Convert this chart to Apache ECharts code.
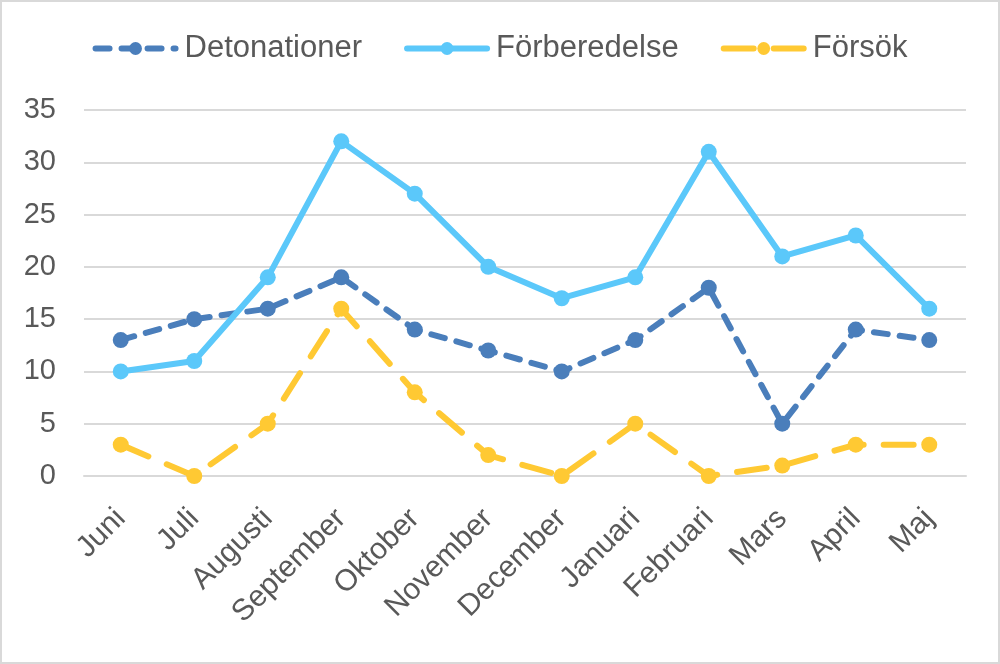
<!DOCTYPE html>
<html>
<head>
<meta charset="utf-8">
<script src="https://cdn.jsdelivr.net/npm/echarts@6/dist/echarts.min.js"></script>
<style>
  html, body { margin: 0; padding: 0; background: #fff; }
  #main { width: 996px; height: 660px; border: 2px solid #d9d9d9; }
</style>
</head>
<body>
<div id="main"></div>
<script>
var months = ['Juni', 'Juli', 'Augusti', 'September', 'Oktober', 'November', 'December', 'Januari', 'Februari', 'Mars', 'April', 'Maj'];
var detonationer = [13, 15, 16, 19, 14, 12, 10, 13, 18, 5, 14, 13];
var forberedelse = [10, 11, 19, 32, 27, 20, 17, 19, 31, 21, 23, 16];
var forsok = [3, 0, 5, 16, 8, 2, 0, 5, 0, 1, 3, 3];

(function () {
    var chartDom = document.getElementById('main');
    var myChart = echarts.init(chartDom);
    var font = '"Liberation Sans", Arial, sans-serif';
    var option;

    option = {
        animation: false,
        legend: {
            top: 26,
            left: 'center',
            itemWidth: 80,
            itemHeight: 16,
            itemGap: 42,
            lineStyle: { width: 6 },
            textStyle: {
                fontFamily: font,
                fontSize: 31,
                color: '#595959',
                padding: [0, 0, 0, 4]
            }
        },
        grid: {
            left: 82,
            right: 32,
            top: 108,
            bottom: 186
        },
        xAxis: {
            type: 'category',
            data: months,
            axisLine: {
                lineStyle: { color: '#d9d9d9', width: 2 }
            },
            axisTick: { show: false },
            axisLabel: {
                rotate: 45,
                margin: 38,
                fontFamily: font,
                fontSize: 30,
                color: '#595959'
            }
        },
        yAxis: {
            type: 'value',
            min: 0,
            max: 35,
            interval: 5,
            axisLabel: {
                margin: 28,
                fontFamily: font,
                fontSize: 29,
                color: '#595959'
            },
            splitLine: {
                lineStyle: { color: '#d9d9d9', width: 2 }
            }
        },
        series: [
            {
                name: 'Detonationer',
                type: 'line',
                data: detonationer,
                symbol: 'circle',
                symbolSize: 16,
                color: '#4a7ebb',
                lineStyle: {
                    width: 6,
                    type: [14, 12],
                    cap: 'round'
                }
            },
            {
                name: 'Förberedelse',
                type: 'line',
                data: forberedelse,
                symbol: 'circle',
                symbolSize: 16,
                color: '#5bc8fa',
                lineStyle: {
                    width: 6,
                    cap: 'round'
                }
            },
            {
                name: 'Försök',
                type: 'line',
                data: forsok,
                symbol: 'circle',
                symbolSize: 16,
                color: '#ffc933',
                lineStyle: {
                    width: 6,
                    type: [30, 20],
                    cap: 'round'
                }
            }
        ]
    };

    option && myChart.setOption(option);
})();
</script>
</body>
</html>
